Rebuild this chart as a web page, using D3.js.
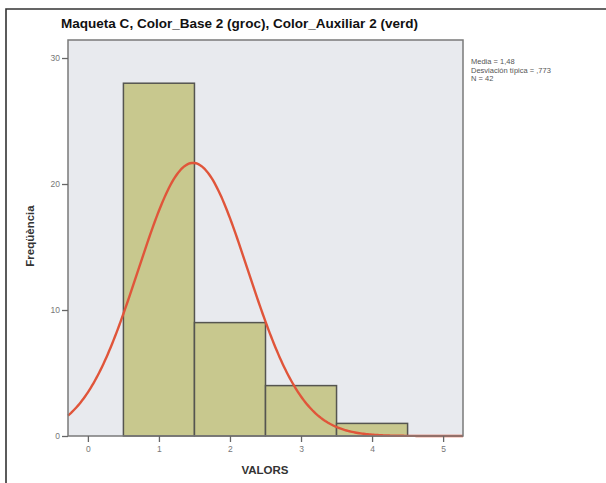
<!DOCTYPE html>
<html><head><meta charset="utf-8">
<script src="https://cdn.jsdelivr.net/npm/d3@7"></script>
<style>body{margin:0;background:#fff}svg{display:block}</style>
</head><body>
<script>
// Data
const binStarts = [0.5, 1.5, 2.5, 3.5];
const binEnds = [1.5, 2.5, 3.5, 4.5];
const counts = [28, 9, 4, 1];
const xTicks = [0, 1, 2, 3, 4, 5];
const yTicks = [0, 10, 20, 30];
const statMean = [1.48];
const statSd = [0.773];
const statN = [42];
const statLabels = ["Media = 1,48", "Desviación típica = ,773", "N = 42"];
const titleText = "Maqueta C, Color_Base 2 (groc), Color_Auxiliar 2 (verd)";

const W = 606, H = 483;
const m = {left: 68, right: 463, top: 40, bottom: 436};
const svg = d3.select("body").append("svg").attr("width", W).attr("height", H);

// outer frame
svg.append("path").attr("d", `M6,${H} L6,9 L${W},9`).attr("fill", "none").attr("stroke", "#333").attr("stroke-width", 1.6);

const x = d3.scaleLinear().domain([-0.28, 5.28]).range([m.left, m.right]);
const y = d3.scaleLinear().domain([0, 31.43]).range([m.bottom, m.top]);

svg.append("rect").attr("x", m.left).attr("y", m.top).attr("width", m.right - m.left).attr("height", m.bottom - m.top)
  .attr("fill", "#e8eaee");

// bars
svg.append("g").selectAll("rect").data(counts).join("rect")
  .attr("x", (d, i) => x(binStarts[i]))
  .attr("width", (d, i) => x(binEnds[i]) - x(binStarts[i]))
  .attr("y", d => y(d))
  .attr("height", d => y(0) - y(d))
  .attr("fill", "#c8c88e").attr("stroke", "#555550").attr("stroke-width", 1.5);

// normal curve from displayed statistics
const mu = statMean[0], sd = statSd[0], n = statN[0];
const xs = d3.range(-0.28, 5.2801, 0.02);
const line = d3.line().x(v => x(v)).y(v => y(n / (sd * Math.sqrt(2 * Math.PI)) * Math.exp(-0.5 * ((v - mu) / sd) ** 2)));
svg.append("path").datum(xs).attr("d", line).attr("fill", "none").attr("stroke", "#e0553a").attr("stroke-width", 2.4);

// frame of plot
svg.append("rect").attr("x", m.left).attr("y", m.top).attr("width", m.right - m.left).attr("height", m.bottom - m.top)
  .attr("fill", "none").attr("stroke", "#7a7a7a").attr("stroke-width", 1.5);

// axes
const yAxis = d3.axisLeft(y).tickValues(yTicks).tickFormat(d3.format("d")).tickSize(6).tickPadding(2);
const gy = svg.append("g").attr("transform", `translate(${m.left},0)`).call(yAxis);
const xAxis = d3.axisBottom(x).tickValues(xTicks).tickFormat(d3.format("d")).tickSize(6).tickPadding(4);
const gx = svg.append("g").attr("transform", `translate(0,${m.bottom})`).call(xAxis);
[gy, gx].forEach(g => {
  g.select(".domain").remove();
  g.selectAll("line").attr("stroke", "#666").attr("stroke-width", 1.3);
  g.selectAll("text").attr("fill", "#777").attr("font-family", "Liberation Sans, Arial, sans-serif").attr("font-size", 8.5);
});

// title
svg.append("text").attr("x", 61).attr("y", 28).text(titleText)
  .attr("font-family", "Liberation Sans, Arial, sans-serif").attr("font-weight", "bold").attr("font-size", 13)
  .attr("fill", "#111").attr("textLength", 357).attr("lengthAdjust", "spacingAndGlyphs");

// axis labels
svg.append("text").attr("transform", "translate(34,236) rotate(-90)").attr("text-anchor", "middle").text("Freqüència")
  .attr("font-family", "Liberation Sans, Arial, sans-serif").attr("font-weight", "bold").attr("font-size", 11.5).attr("fill", "#333");
svg.append("text").attr("x", 265).attr("y", 474).attr("text-anchor", "middle").text("VALORS")
  .attr("font-family", "Liberation Sans, Arial, sans-serif").attr("font-weight", "bold").attr("font-size", 11.5).attr("fill", "#333");

// stats
svg.append("g").selectAll("text").data(statLabels).join("text")
  .attr("x", 471).attr("y", (d, i) => 64 + i * 8.5).text(d => d)
  .attr("font-family", "Liberation Sans, Arial, sans-serif").attr("font-size", 7.5).attr("fill", "#555");
</script>
</body></html>
